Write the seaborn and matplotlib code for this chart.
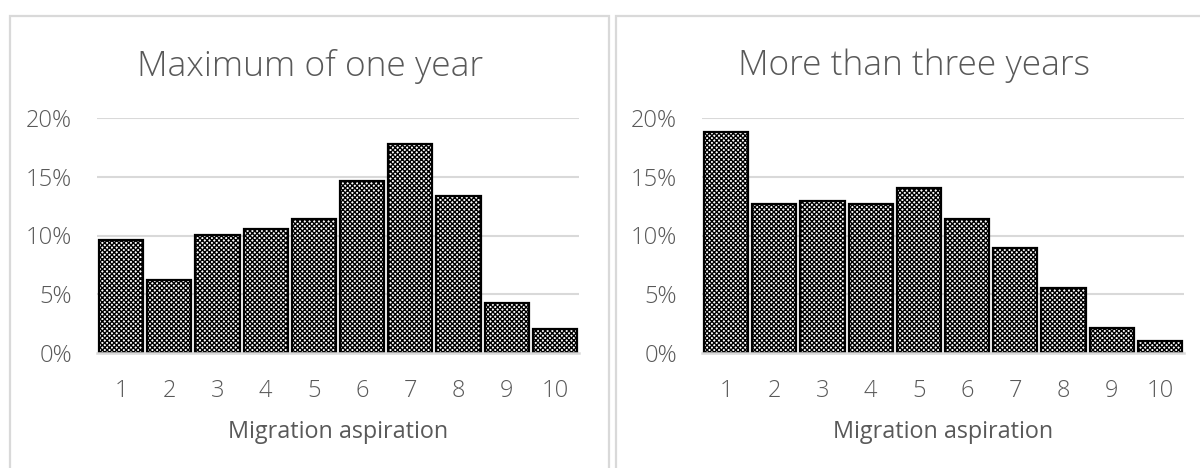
import matplotlib
matplotlib.use("Agg")
import matplotlib.pyplot as plt
import seaborn as sns
import pandas as pd
from matplotlib.patches import Rectangle
from matplotlib.ticker import FuncFormatter

categories = ["1", "2", "3", "4", "5", "6", "7", "8", "9", "10"]
max_one_year = [9.6, 6.25, 10.05, 10.55, 11.4, 14.6, 17.75, 13.35, 4.25, 2.05]
more_three_years = [18.8, 12.7, 12.9, 12.7, 14.05, 11.4, 8.95, 5.5, 2.1, 1.0]
titles = ["Maximum of one year", "More than three years"]
xlabel = "Migration aspiration"
yticks = [0, 5, 10, 15, 20]

sns.set_theme(style="white")
plt.rcParams['font.family'] = ['Open Sans', 'DejaVu Sans']
plt.rcParams['hatch.color'] = 'black'
plt.rcParams['hatch.linewidth'] = 1.0

TXT = '#595959'
GRID = '#d9d9d9'

fig = plt.figure(figsize=(12, 4.68), dpi=100)
W, H = 1200, 468

# panel borders
for (x0, x1) in [(10, 609), (616, 1215)]:
    fig.add_artist(Rectangle((x0 / W, -0.05), (x1 - x0) / W, (H - 15.5) / H + 0.05,
                             transform=fig.transFigure, fill=False,
                             edgecolor=GRID, linewidth=1.6, clip_on=False))

axes_left = [97, 702]
title_x = [310, 914]
for i, vals in enumerate([max_one_year, more_three_years]):
    ax = fig.add_axes([axes_left[i] / W, (H - 353) / H, 482 / W, (353 - 118) / H])
    df = pd.DataFrame({"cat": categories, "val": vals})
    sns.barplot(data=df, x="cat", y="val", ax=ax, color="white", width=0.92,
                edgecolor="black", linewidth=1.6, saturation=1)
    for p in ax.patches:
        p.set_hatch('xxxxxxx')
        p.set_facecolor('white')
    ax.set_ylim(0, 20)
    ax.set_xlim(-0.5, 9.5)
    ax.set_yticks(yticks)
    ax.yaxis.set_major_formatter(FuncFormatter(lambda v, p: f"{v:.0f}%"))
    ax.grid(axis='y', color=GRID, linewidth=1.5)
    ax.set_axisbelow(True)
    for s in ['left', 'right', 'top']:
        ax.spines[s].set_visible(False)
    ax.spines['bottom'].set_color(GRID)
    ax.spines['bottom'].set_linewidth(1.8)
    ax.tick_params(axis='x', length=0, pad=19, labelsize=17, labelcolor=TXT)
    ax.tick_params(axis='y', length=0, pad=18, labelsize=17, labelcolor=TXT)
    for lab in ax.get_xticklabels() + ax.get_yticklabels():
        lab.set_fontweight('light')
    ax.set_xlabel(xlabel, fontsize=16.8, color=TXT, labelpad=12)
    ax.set_ylabel("")
    fig.text(title_x[i] / W, 1 - 66 / H, titles[i], ha='center', va='center',
             fontsize=25.5, color=TXT, fontweight='light')

fig.savefig("out.png", dpi=100)
